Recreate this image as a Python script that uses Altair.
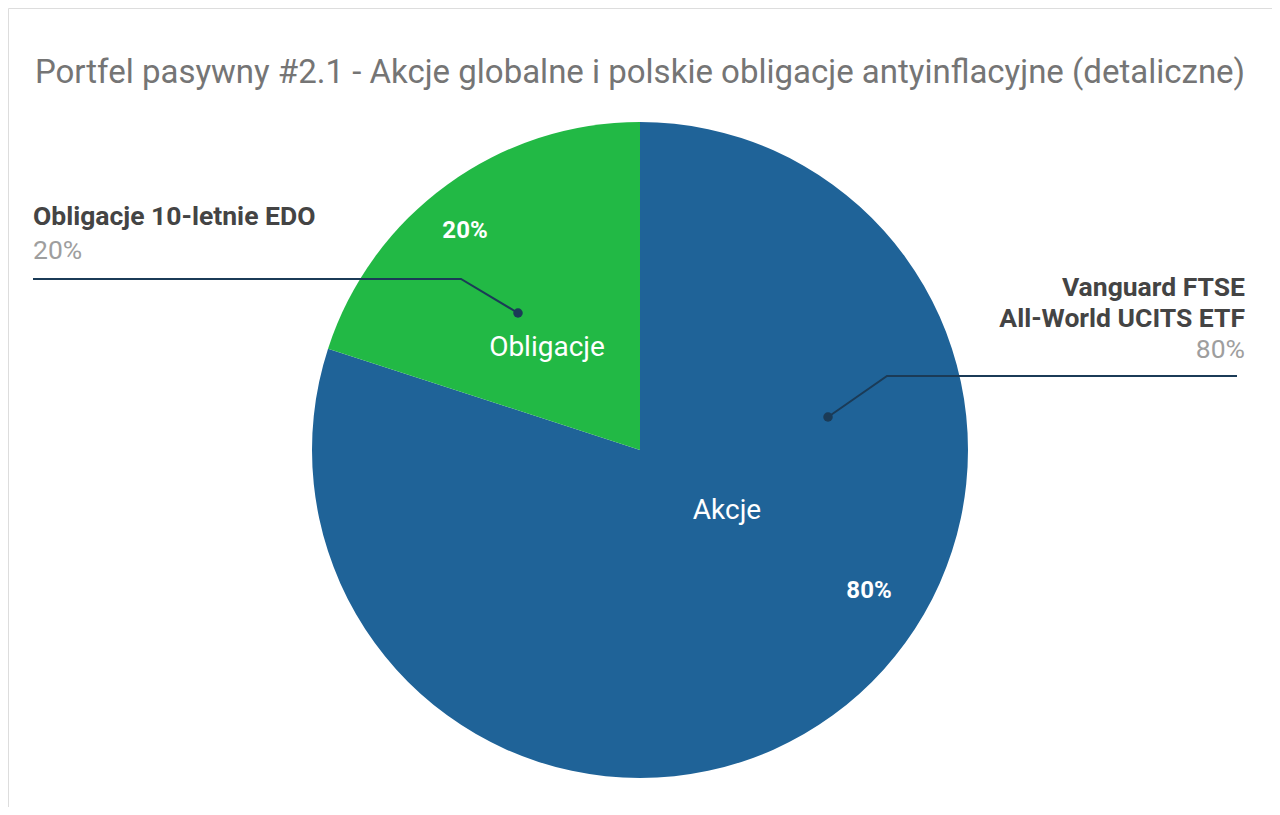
import pandas as pd
import altair as alt

# Portfolio split (pie slices)
slice_names = ["Akcje", "Obligacje"]
slice_values = [80, 20]
slice_colors = ["#1f6398", "#22b945"]

# Outside callouts
fund_names = ["Vanguard FTSE\nAll-World UCITS ETF", "Obligacje 10-letnie EDO"]
fund_shares = ["80%", "20%"]

title_text = "Portfel pasywny #2.1 - Akcje globalne i polskie obligacje antyinflacyjne (detaliczne)"

W, H = 1264, 799

pie_df = pd.DataFrame({"name": slice_names, "value": slice_values, "rank": [0, 1]})

# pixel layout for the annotation layer (x from left, y from top)
xs = alt.Scale(domain=[0, W])
ys = alt.Scale(domain=[H, 0])
noax = None

pie = (alt.Chart(pie_df)
       .mark_arc(radius=328)
       .encode(theta=alt.Theta("value:Q", stack=True),
               color=alt.Color("name:N",
                               scale=alt.Scale(domain=slice_names, range=slice_colors),
                               legend=None),
               order=alt.Order("rank:Q"),
               x=alt.value(632), y=alt.value(442))
)

# leader lines
leader_df = pd.DataFrame({
    "grp": ["a", "a", "a", "o", "o", "o"],
    "step": [0, 1, 2, 0, 1, 2],
    "px": [1229, 879, 820, 25, 453, 510],
    "py": [368, 368, 409, 271, 271, 305],
})
leaders = (alt.Chart(leader_df)
           .mark_line(color="#1b3b57", strokeWidth=2)
           .encode(x=alt.X("px:Q", scale=xs, axis=noax),
                   y=alt.Y("py:Q", scale=ys, axis=noax),
                   detail="grp:N", order="step:Q")
)
dots_df = leader_df[leader_df.step == 2]
dots = (alt.Chart(dots_df)
        .mark_circle(color="#1b3b57", opacity=1, size=90)
        .encode(x=alt.X("px:Q", scale=xs, axis=noax),
                y=alt.Y("py:Q", scale=ys, axis=noax))
)


def label(df, **style):
    return (alt.Chart(df)
            .mark_text(font="Roboto", baseline="alphabetic", **style)
            .encode(x=alt.X("px:Q", scale=xs, axis=noax),
                    y=alt.Y("py:Q", scale=ys, axis=noax),
                    text="t:N"))


title = label(pd.DataFrame({"t": [title_text], "px": [632], "py": [75]}),
              fontSize=33, color="#757575", align="center")

right_name = label(pd.DataFrame({"t": fund_names[0].split("\n"),
                                 "px": [1237, 1237], "py": [288, 319]}),
                   fontSize=26.5, fontWeight="bold", color="#444444", align="right")
right_pct = label(pd.DataFrame({"t": [fund_shares[0]], "px": [1237], "py": [350]}),
                  fontSize=26.5, color="#9e9e9e", align="right")
left_name = label(pd.DataFrame({"t": [fund_names[1]], "px": [25], "py": [217]}),
                  fontSize=26.5, fontWeight="bold", color="#444444", align="left")
left_pct = label(pd.DataFrame({"t": [fund_shares[1]], "px": [25], "py": [251]}),
                 fontSize=26.5, color="#9e9e9e", align="left")

inner_names = label(pd.DataFrame({"t": slice_names, "px": [719, 539], "py": [511, 348]}),
                    fontSize=28, color="white", align="center")
inner_pcts = label(pd.DataFrame({"t": [f"{v}%" for v in slice_values],
                                 "px": [861, 457], "py": [590, 230]}),
                   fontSize=24, fontWeight="bold", color="white", align="center")

chart = (alt.layer(pie, leaders, dots, title, right_name, right_pct, left_name, left_pct,
                   inner_names, inner_pcts)
         .properties(width=W, height=H, autosize=alt.AutoSizeParams(type="none"), padding=0)
         .configure_view(stroke=None)
         .configure(background="white")
)

chart.save("out.html", embed_options={"renderer": "svg", "actions": False})
